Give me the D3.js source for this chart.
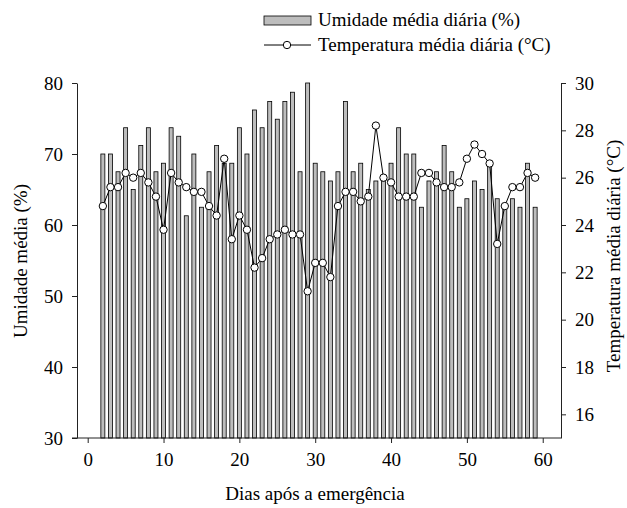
<!DOCTYPE html>
<html><head><meta charset="utf-8">
<script src="https://cdn.jsdelivr.net/npm/d3@7"></script>
<style>body{margin:0;background:#fff}svg{display:block}svg text{font-family:'Liberation Serif','Times New Roman',Times,'DejaVu Serif',serif !important;fill:#000}</style>
</head><body>
<svg id="c" width="627" height="508"></svg>
<script>
const days = d3.range(2, 60);
const humidity = [70,70,67.5,73.7,65,71.2,73.7,67.5,68.7,73.7,72.5,61.3,70,62.5,67.5,71.2,68.7,68.7,73.7,70,76.2,73.7,77.4,74.9,77.4,78.7,67.5,80,68.7,67.5,66.2,67.5,77.4,67.5,68.7,65,66.2,66.2,68.7,73.7,70,70,62.5,66.2,67.5,71.2,67.5,62.5,63.7,66.2,65,68.7,63.7,62.5,63.7,62.5,68.7,62.5];
const temperature = [24.8,25.6,25.6,26.2,26.0,26.2,25.8,25.2,23.8,26.2,25.8,25.6,25.4,25.4,24.8,24.4,26.8,23.4,24.4,23.8,22.2,22.6,23.4,23.6,23.8,23.6,23.6,21.2,22.4,22.4,21.8,24.8,25.4,25.4,25.0,25.2,28.2,26.0,25.8,25.2,25.2,25.2,26.2,26.2,25.8,25.6,25.6,25.8,26.8,27.4,27.0,26.6,23.2,24.8,25.6,25.6,26.2,26.0];
const xTicks = [0,10,20,30,40,50,60];
const yLeftTicks = [30,40,50,60,70,80];
const yRightTicks = [16,18,20,22,24,26,28,30];
const legendLabels = ["Umidade média diária (%)", "Temperatura média diária (°C)"];
const xTitle = "Dias após a emergência";
const yLeftTitle = "Umidade média (%)";
const yRightTitle = "Temperatura média diária (°C)";

const L = 77, R = 561, T = 83, B = 438;
const FS = "19px";
const svg = d3.select("#c");
const x = d3.scaleLinear().domain([-1.41, 62.41]).range([L, R]);
const yL = d3.scaleLinear().domain([30, 80]).range([B, T]);
const yR = d3.scaleLinear().domain([15, 30]).range([B, T]);
const bw = 4;

// bars
svg.append("g").selectAll("rect").data(days).join("rect")
  .attr("x", (d) => x(d) - bw/2)
  .attr("y", (d, i) => yL(humidity[i]))
  .attr("width", bw)
  .attr("height", (d, i) => yL(30) - yL(humidity[i]))
  .attr("fill", "#bdbdbd").attr("stroke", "#000").attr("stroke-width", 0.8);

// line
const line = d3.line().x((d) => x(d[0])).y((d) => yR(d[1]));
const pts = days.map((d, i) => [d, temperature[i]]);
svg.append("path").datum(pts).attr("d", line).attr("fill", "none").attr("stroke", "#000").attr("stroke-width", 1);
svg.append("g").selectAll("circle").data(pts).join("circle")
  .attr("cx", (d) => x(d[0])).attr("cy", (d) => yR(d[1])).attr("r", 3.7)
  .attr("fill", "#fff").attr("stroke", "#000").attr("stroke-width", 1);

// axes
function style(g) {
  g.attr("font-family", null).attr("font-size", null);
  g.selectAll("text").style("font-size", FS);
  g.selectAll("line,path").attr("stroke", "#222");
}
const gx = svg.append("g").attr("transform", `translate(0,${B})`)
  .call(d3.axisBottom(x).tickValues(xTicks).tickSize(5).tickSizeOuter(0).tickPadding(10).tickFormat(d3.format("d")));
style(gx);
const gl = svg.append("g").attr("transform", `translate(${L},0)`)
  .call(d3.axisLeft(yL).tickValues(yLeftTicks).tickSize(5).tickSizeOuter(0).tickPadding(9));
style(gl);
const gr = svg.append("g").attr("transform", `translate(${R},0)`)
  .call(d3.axisRight(yR).tickValues(yRightTicks).tickSize(5).tickSizeOuter(0).tickPadding(9));
style(gr);
gx.select(".domain").attr("d", `M${L-5},0H${R}`);

// titles
svg.append("text").attr("x", (L+R)/2 - 4).attr("y", 500).attr("text-anchor", "middle").style("font-size", FS).text(xTitle);
svg.append("text").attr("transform", `translate(27,261) rotate(-90)`).attr("text-anchor", "middle").style("font-size", FS).text(yLeftTitle);
svg.append("text").attr("transform", `translate(620,256) rotate(-90)`).attr("text-anchor", "middle").style("font-size", FS).text(yRightTitle);

// legend
const lg = svg.append("g");
lg.append("rect").attr("x", 264).attr("y", 16).attr("width", 47).attr("height", 9).attr("fill", "#bdbdbd").attr("stroke", "#000").attr("stroke-width", 0.8);
lg.append("text").attr("x", 318).attr("y", 26).style("font-size", FS).text(legendLabels[0]);
lg.append("line").attr("x1", 264).attr("x2", 311).attr("y1", 45).attr("y2", 45).attr("stroke", "#000");
lg.append("circle").attr("cx", 287).attr("cy", 45).attr("r", 3.7).attr("fill", "#fff").attr("stroke", "#000");
lg.append("text").attr("x", 318).attr("y", 51).style("font-size", FS).text(legendLabels[1]);
</script>
</body></html>
